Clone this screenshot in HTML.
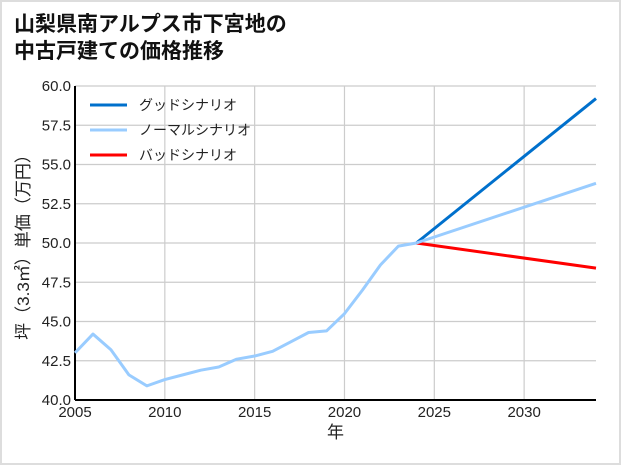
<!DOCTYPE html>
<html><head><meta charset="utf-8"><style>
html,body{margin:0;padding:0;background:#fff}
#wrap{position:relative;width:621px;height:465px;box-sizing:border-box;border:2px solid #ddd;background:#fff;font-family:"Liberation Sans","Noto Sans CJK JP",sans-serif}
</style></head><body>
<div id="wrap">
<svg id="chart" width="617" height="461" style="position:absolute;left:0;top:0">
<text x="12" y="29" font-size="21" font-weight="bold" fill="#111" font-family="Liberation Sans,Noto Sans CJK JP,sans-serif">山梨県南アルプス市下宮地の</text>
<text x="12" y="56" font-size="21" font-weight="bold" fill="#111" font-family="Liberation Sans,Noto Sans CJK JP,sans-serif">中古戸建ての価格推移</text>
<g id="grid"></g><g id="axes"></g><g id="series"></g><g id="legend"></g>
</svg>
</div>
<script>
const historyYears=[2005,2006,2007,2008,2009,2010,2011,2012,2013,2014,2015,2016,2017,2018,2019,2020,2021,2022,2023,2024];
const normalHistory=[43.0,44.2,43.2,41.6,40.9,41.3,41.6,41.9,42.1,42.6,42.8,43.1,43.7,44.3,44.4,45.5,47.0,48.6,49.8,50.0];
const projYears=[2024,2034];
const goodValues=[50.0,59.2];
const normalValues=[50.0,53.8];
const badValues=[50.0,48.4];
const xTicks=[2005,2010,2015,2020,2025,2030];
const yTicks=[40.0,42.5,45.0,47.5,50.0,52.5,55.0,57.5,60.0];
const ns="http://www.w3.org/2000/svg";
const L=73,R=594,T=84,B=398,x0=2005,x1=2034,y0=40,y1=60;
const xs=v=>L+(v-x0)/(x1-x0)*(R-L);
const ys=v=>B-(v-y0)/(y1-y0)*(B-T);
function mk(tag,attrs,parent){const e=document.createElementNS(ns,tag);for(const k in attrs)e.setAttribute(k,attrs[k]);parent.appendChild(e);return e;}
const grid=document.getElementById('grid'),axes=document.getElementById('axes'),series=document.getElementById('series'),legend=document.getElementById('legend');
const F="Liberation Sans,Noto Sans CJK JP,sans-serif";
xTicks.forEach(t=>{const l=mk('line',{x1:xs(t),x2:xs(t),y1:T,y2:B,stroke:'#ccc','stroke-width':1.2},grid);

const tx=mk('text',{x:xs(t),y:B+17,'font-size':15,'text-anchor':'middle',fill:'#222','font-family':F},axes);tx.textContent=t;
});
yTicks.forEach(t=>{const l=mk('line',{x1:L,x2:R,y1:ys(t),y2:ys(t),stroke:'#ccc','stroke-width':1.2},grid);

const tx=mk('text',{x:L-4,y:ys(t)+5,'font-size':15,'text-anchor':'end',fill:'#222','font-family':F},axes);tx.textContent=t.toFixed(1);
});
const ya=mk('line',{x1:L,x2:L,y1:T,y2:B,stroke:'#000','stroke-width':2},axes);

const xa=mk('line',{x1:L,x2:R,y1:B,y2:B,stroke:'#000','stroke-width':2},axes);

const xt=mk('text',{x:(L+R)/2,y:B+38,'font-size':17,'text-anchor':'middle',fill:'#222','font-family':F},axes);xt.textContent='年';

const yt=mk('text',{x:0,y:0,'font-size':17,'text-anchor':'middle',fill:'#222','font-family':F,transform:`translate(27,${(T+B)/2}) rotate(-90)`},axes);yt.textContent='坪（3.3㎡）単価（万円）';

function line(xv,yv,color,name){const p=mk('polyline',{points:xv.map((x,i)=>xs(x)+','+ys(yv[i])).join(' '),fill:'none',stroke:color,'stroke-width':3,'stroke-linejoin':'round'},series);
}
line(projYears,badValues,'#ff0000','bad-scenario-line');
line(projYears,goodValues,'#0070cc','good-scenario-line');
line(historyYears,normalHistory,'#99ccff','historical-line');
line(projYears,normalValues,'#99ccff','normal-scenario-line');
[['グッドシナリオ','#0070cc'],['ノーマルシナリオ','#99ccff'],['バッドシナリオ','#ff0000']].forEach((d,i)=>{
const y=103+i*25;const l=mk('line',{x1:88,x2:125,y1:y,y2:y,stroke:d[1],'stroke-width':3},legend);

const t=mk('text',{x:137,y:y+5,'font-size':14,fill:'#222','font-family':F},legend);t.textContent=d[0];
});
</script>
</body></html>
